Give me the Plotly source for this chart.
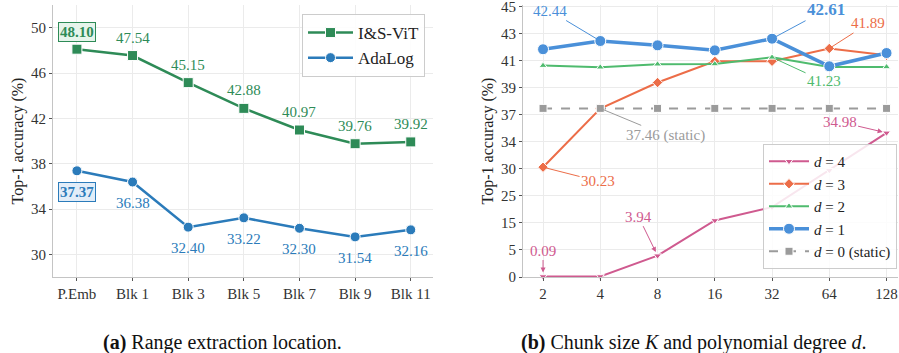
import numpy as np
import plotly.graph_objects as go

# ---------------- data ----------------
locations = ["P.Emb", "Blk 1", "Blk 3", "Blk 5", "Blk 7", "Blk 9", "Blk 11"]
isvit = [48.10, 47.54, 45.15, 42.88, 40.97, 39.76, 39.92]
adalog = [37.37, 36.38, 32.40, 33.22, 32.30, 31.54, 32.16]

chunk_sizes = ["2", "4", "8", "16", "32", "64", "128"]
d4 = [0.09, 0.10, 3.94, 15.9, 20.8, 29.7, 34.98]
d3 = [30.23, 37.45, 39.37, 40.94, 40.94, 41.89, 41.38]
d2 = [40.62, 40.50, 40.72, 40.74, 41.23, 40.52, 40.52]
d1 = [41.83, 42.44, 42.12, 41.75, 42.61, 40.57, 41.55]
d0 = [37.46, 37.46, 37.46, 37.46, 37.46, 37.46, 37.46]

left_yticks = [30, 34, 38, 42, 46, 50]
right_yticks = [0, 5, 15, 25, 30, 34, 37, 39, 41, 43, 45]

# ---------------- style ----------------
FONT = "Liberation Serif, Times New Roman, serif"
GREEN_L = "#2e8b57"
BLUE_L = "#2b7bba"
C_D4 = "#cf5a8f"
C_D3 = "#ec6d48"
C_D2 = "#4fbb6e"
C_D1 = "#4a90d9"
C_D0 = "#9b9b9b"
GRID = "#ebebeb"
SPINE = "#c4c4c4"
TICKC = "#333333"

W, H = 899, 353


def tr(v):
    """piecewise-linear mapping of the broken right y-scale"""
    return np.interp(v, right_yticks, np.arange(len(right_yticks)))


fig = go.Figure()

xl = list(range(len(locations)))
xr = list(range(len(chunk_sizes)))

mk_line = dict(color="white", width=1)

fig.add_trace(go.Scatter(x=xl, y=isvit, mode="lines+markers", name="I&S-ViT",
                         line=dict(color=GREEN_L, width=2.5),
                         marker=dict(symbol="square", size=10, color=GREEN_L, line=mk_line),
                         xaxis="x", yaxis="y", legend="legend"))
fig.add_trace(go.Scatter(x=xl, y=adalog, mode="lines+markers", name="AdaLog",
                         line=dict(color=BLUE_L, width=2.5),
                         marker=dict(symbol="circle", size=10, color=BLUE_L, line=mk_line),
                         xaxis="x", yaxis="y", legend="legend"))

series = [
    ("<i>d</i> = 4", d4, C_D4, "triangle-down", 7, 2, "solid"),
    ("<i>d</i> = 3", d3, C_D3, "diamond", 8, 2, "solid"),
    ("<i>d</i> = 2", d2, C_D2, "triangle-up", 7, 2, "solid"),
    ("<i>d</i> = 1", d1, C_D1, "circle", 11, 3.5, "solid"),
    ("<i>d</i> = 0 (static)", d0, C_D0, "square", 8, 2, "dash"),
]
for name, vals, col, sym, sz, lw, dash in series:
    fig.add_trace(go.Scatter(x=xr, y=tr(vals), mode="lines+markers", name=name,
                             line=dict(color=col, width=lw, dash=dash),
                             marker=dict(symbol=sym, size=sz, color=col, line=mk_line),
                             customdata=vals, cliponaxis=False,
                             xaxis="x2", yaxis="y2", legend="legend2"))

ann = []
af = dict(family=FONT, size=15)
for i, v in enumerate(isvit):
    if i == 0:
        ann.append(dict(x=i, y=v, xref="x", yref="y", text=f"<b>{v:.2f}</b>", showarrow=False,
                        yshift=17, font=dict(af, color=GREEN_L), bgcolor="#e6f4eb",
                        bordercolor=GREEN_L, borderwidth=1, borderpad=1))
    else:
        ann.append(dict(x=i, y=v, xref="x", yref="y", text=f"{v:.2f}", showarrow=False,
                        yshift=18, font=dict(af, color=GREEN_L)))
for i, v in enumerate(adalog):
    if i == 0:
        ann.append(dict(x=i, y=v, xref="x", yref="y", text=f"<b>{v:.2f}</b>", showarrow=False,
                        yshift=-21, font=dict(af, color=BLUE_L), bgcolor="#e2edf8",
                        bordercolor=BLUE_L, borderwidth=1, borderpad=1))
    else:
        ann.append(dict(x=i, y=v, xref="x", yref="y", text=f"{v:.2f}", showarrow=False,
                        yshift=-21, font=dict(af, color=BLUE_L)))

callouts = [
    (1, d1[1], f"{d1[1]:.2f}", C_D1, -50, -30, 0, False),
    (4, d1[4], f"<b>{d1[4]:.2f}</b>", C_D1, 54, -29, 0, True),
    (5, d3[5], f"{d3[5]:.2f}", C_D3, 39, -25, 0, False),
    (4, d2[4], f"{d2[4]:.2f}", C_D2, 52, 24, 0, False),
    (1, d0[1], f"{d0[1]:.2f} (static)", C_D0, 65, 27, 0, False),
    (0, d3[0], f"{d3[0]:.2f}", C_D3, 55, 14, 0, False),
    (6, d4[6], f"{d4[6]:.2f}", C_D4, -47, -11, 2, False),
    (2, d4[2], f"{d4[2]:.2f}", C_D4, -19, -39, 2, False),
    (0, d4[0], f"{d4[0]:.2f}", C_D4, 0, -26, 2, False),
]
for xi, v, txt, col, ax, ay, head, bold in callouts:
    ann.append(dict(x=xi, y=float(tr(v)), xref="x2", yref="y2", text=txt,
                    font=dict(family=FONT, size=17 if bold else 15, color=col),
                    showarrow=True, ax=ax, ay=ay, arrowcolor=col, arrowwidth=1,
                    arrowhead=head, arrowsize=1, standoff=3 if head == 0 else 4))

ann.append(dict(x=222 / W, y=1 - 342 / H, xref="paper", yref="paper", showarrow=False,
                xanchor="center", yanchor="middle",
                text="<b>(a)</b> Range extraction location.",
                font=dict(family=FONT, size=20, color="#111")))
ann.append(dict(x=694 / W, y=1 - 342 / H, xref="paper", yref="paper", showarrow=False,
                xanchor="center", yanchor="middle",
                text="<b>(b)</b> Chunk size <i>K</i> and polynomial degree <i>d</i>.",
                font=dict(family=FONT, size=20, color="#111")))

ydom = [1 - 277 / H, 1 - 5 / H]

axis_common = dict(showgrid=True, gridcolor=GRID, gridwidth=1, zeroline=False,
                   showline=True, linecolor=SPINE, linewidth=1.2, automargin=False,
                   ticks="outside", ticklen=3, tickcolor="#555",
                   ticklabeloverflow="allow",
                   tickfont=dict(family=FONT, size=15, color=TICKC))
ytitle = dict(text="Top-1 accuracy (%)", font=dict(family=FONT, size=16, color="#222"), standoff=3)

fig.update_layout(
    width=W, height=H,
    margin=dict(l=0, r=0, t=0, b=0, autoexpand=False),
    paper_bgcolor="white", plot_bgcolor="white",
    font=dict(family=FONT, color=TICKC),
    showlegend=True,
    xaxis=dict(axis_common, domain=[53 / W, 433 / W], range=[-0.43, 6.4],
               tickmode="array", tickvals=xl, ticktext=locations, anchor="y"),
    yaxis=dict(axis_common, domain=ydom, range=[28, 52], tickmode="array",
               tickvals=left_yticks, anchor="x", title=ytitle),
    xaxis2=dict(axis_common, domain=[523 / W, 898 / W], range=[-0.35, 6.2],
                tickmode="array", tickvals=xr, ticktext=chunk_sizes, anchor="y2"),
    yaxis2=dict(axis_common, domain=ydom, range=[0, 10.05], tickmode="array",
                tickvals=list(tr(right_yticks)), ticktext=[str(t) for t in right_yticks],
                anchor="x2", title=ytitle),
    legend=dict(x=425 / W, y=1 - 14 / H, xanchor="right", yanchor="top",
                bgcolor="rgba(255,255,255,0.9)", bordercolor="#cccccc", borderwidth=1,
                font=dict(family=FONT, size=17, color="#222"), itemwidth=45),
    legend2=dict(x=897 / W, y=1 - 269 / H, xanchor="right", yanchor="bottom",
                 bgcolor="rgba(255,255,255,0.85)", bordercolor="#cccccc", borderwidth=1,
                 font=dict(family=FONT, size=15, color="#222"), itemwidth=40,
                 tracegroupgap=0),
    annotations=ann,
)

fig.write_html("out.html", config={"displayModeBar": False},
               post_script="document.body.style.margin='0px';")
